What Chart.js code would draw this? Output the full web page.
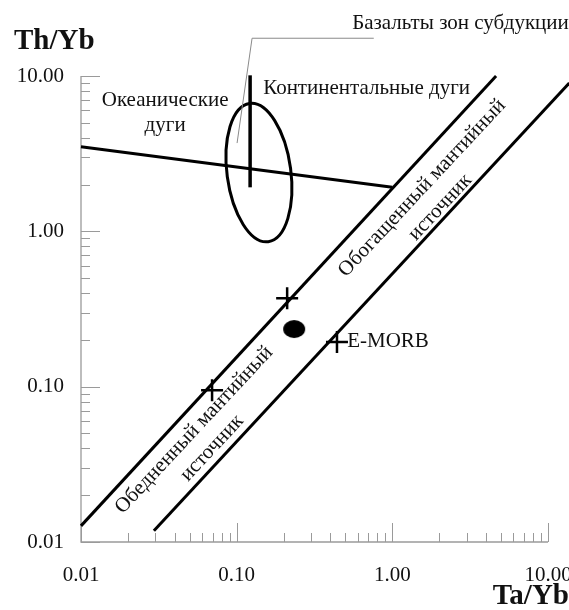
<!DOCTYPE html>
<html>
<head>
<meta charset="utf-8">
<script src="https://cdn.jsdelivr.net/npm/chart.js@4.4.0/dist/chart.umd.min.js"></script>
<style>
  html, body { margin: 0; padding: 0; background: #fff; }
</style>
</head>
<body>
<canvas id="chart" width="569" height="610"></canvas>
<script>
// Th/Yb vs Ta/Yb, both axes log
const decades = [0.01, 0.1, 1, 10];
const minorSteps = [2, 3, 4, 5, 6, 7, 8, 9];
const tickLabels = ["0.01", "0.10", "1.00", "10.00"];

// edges of the mantle array
const upperEdgeX = [0.01, 4.64];
const upperEdgeY = [0.0127, 10];
const lowerEdgeX = [0.0294, 13.7];
const lowerEdgeY = [0.0118, 9.0];

// line across the subduction field
const arcLineX = [0.01, 1.0];
const arcLineY = [3.5, 1.92];

// continental arcs bar
const contArcX = [0.122, 0.122];
const contArcY = [1.92, 10.1];

// leader from "Базальты зон субдукции"
const leaderX = [0.76, 0.1256, 0.1006];
const leaderY = [17.5, 17.5, 3.7];

// crosses
const crossX = [0.0695, 0.211, 0.441];
const crossY = [0.095, 0.371, 0.194];

// filled dot
const dotX = [0.234];
const dotY = [0.235];

// oceanic arcs oval: centre (x, y), half axes in decades, tilt (rad)
const ovalCentre = [0.139, 2.39];
const ovalHalfAxes = [0.205, 0.449];
const ovalTilt = -0.134;

// text notes anchored in data units
const notes = [
  { text: "Базальты зон субдукции", x: 0.552, y: 21.9, align: "left", angle: 0 },
  { text: "Континентальные дуги", x: 0.148, y: 8.34, align: "left", angle: 0 },
  { text: "Океанические", x: 0.0347, y: 6.98, align: "center", angle: 0 },
  { text: "дуги", x: 0.0347, y: 4.82, align: "center", angle: 0 },
  { text: "E-MORB", x: 0.513, y: 0.194, align: "left", angle: 0 },
  { text: "Обедненный мантийный", x: 0.0532, y: 0.0526, align: "center", angle: -47 },
  { text: "источник", x: 0.0695, y: 0.0403, align: "center", angle: -47 },
  { text: "Обогащенный мантийный", x: 1.554, y: 1.90, align: "center", angle: -47 },
  { text: "источник", x: 2.03, y: 1.43, align: "center", angle: -47 },
];

const pts = (xs, ys) => xs.map((x, i) => ({ x, y: ys[i] }));
const SERIF = "'Liberation Serif', 'DejaVu Serif', serif";

// elliptical dot marker
const dotImg = document.createElement("canvas");
dotImg.width = 24;
dotImg.height = 20;
const dctx = dotImg.getContext("2d");
dctx.fillStyle = "#000";
dctx.beginPath();
dctx.ellipse(12, 10, 11, 9, 0, 0, Math.PI * 2);
dctx.fill();

function lineSet(xs, ys, width, color) {
  return {
    data: pts(xs, ys),
    showLine: true,
    borderColor: color || "#000",
    borderWidth: width,
    pointRadius: 0,
    clip: false,
  };
}

const axisDecor = {
  id: "axisDecor",
  beforeDatasetsDraw(chart) {
    const { ctx, chartArea: a, scales: { x, y } } = chart;
    ctx.save();
    ctx.strokeStyle = "#9a9a9a";
    ctx.lineWidth = 1.3;
    ctx.beginPath();
    ctx.moveTo(a.left, a.top);
    ctx.lineTo(a.left, a.bottom);
    ctx.lineTo(a.right, a.bottom);
    ctx.stroke();
    ctx.lineWidth = 1;
    ctx.beginPath();
    x.ticks.forEach((t) => {
      const px = Math.round(x.getPixelForValue(t.value)) + 0.5;
      const len = decades.includes(t.value) ? 19 : 9;
      ctx.moveTo(px, a.bottom);
      ctx.lineTo(px, a.bottom - len);
    });
    y.ticks.forEach((t) => {
      const py = Math.round(y.getPixelForValue(t.value)) + 0.5;
      const len = decades.includes(t.value) ? 19 : 9;
      ctx.moveTo(a.left, py);
      ctx.lineTo(a.left + len, py);
    });
    ctx.stroke();

    // oceanic arcs oval
    const cx = x.getPixelForValue(ovalCentre[0]);
    const cy = y.getPixelForValue(ovalCentre[1]);
    const rx = x.getPixelForValue(ovalCentre[0] * Math.pow(10, ovalHalfAxes[0])) - cx;
    const ry = cy - y.getPixelForValue(ovalCentre[1] * Math.pow(10, ovalHalfAxes[1]));
    ctx.strokeStyle = "#000";
    ctx.lineWidth = 3;
    ctx.beginPath();
    ctx.ellipse(cx, cy, rx, ry, ovalTilt, 0, Math.PI * 2);
    ctx.stroke();
    ctx.restore();
  },
  afterDraw(chart) {
    const { ctx, chartArea: a, scales: { x, y } } = chart;
    ctx.save();
    ctx.fillStyle = "#111";
    ctx.textBaseline = "middle";
    ctx.font = "21px " + SERIF;
    notes.forEach((n) => {
      ctx.save();
      ctx.translate(x.getPixelForValue(n.x), y.getPixelForValue(n.y));
      ctx.rotate((n.angle * Math.PI) / 180);
      ctx.textAlign = n.align;
      ctx.fillText(n.text, 0, 0);
      ctx.restore();
    });
    ctx.font = "bold 29px " + SERIF;
    ctx.textAlign = "left";
    ctx.fillText("Th/Yb", a.left - 67, a.top - 34);
    ctx.textAlign = "right";
    ctx.fillText("Ta/Yb", chart.width, a.bottom + 55);
    ctx.restore();
  },
};

function logTicks(scale) {
  const ticks = [];
  decades.forEach((d, i) => {
    ticks.push({ value: d });
    if (i < decades.length - 1) {
      minorSteps.forEach((m) => ticks.push({ value: +(d * m).toPrecision(3) }));
    }
  });
  scale.ticks = ticks;
}

const tickLabel = (value) => {
  const i = decades.indexOf(value);
  return i >= 0 ? tickLabels[i] : "";
};

new Chart(document.getElementById("chart"), {
  type: "scatter",
  data: {
    datasets: [
      lineSet(upperEdgeX, upperEdgeY, 3),
      lineSet(lowerEdgeX, lowerEdgeY, 3),
      lineSet(arcLineX, arcLineY, 3),
      lineSet(contArcX, contArcY, 3.5),
      lineSet(leaderX, leaderY, 1, "#8a8a8a"),
      {
        data: pts(crossX, crossY),
        pointStyle: "cross",
        pointRadius: 11,
        borderColor: "#000",
        borderWidth: 2.5,
        clip: false,
      },
      {
        data: pts(dotX, dotY),
        pointStyle: dotImg,
        clip: false,
      },
    ],
  },
  options: {
    responsive: false,
    animation: false,
    events: [],
    layout: { padding: { top: 76, right: 21, left: 0, bottom: 0 } },
    plugins: {
      legend: { display: false },
      tooltip: { enabled: false },
    },
    scales: {
      x: {
        type: "logarithmic",
        min: 0.01,
        max: 10,
        grid: { display: false, drawTicks: false },
        border: { display: false },
        afterBuildTicks: logTicks,
        afterFit: (scale) => {
          scale.height = 68;
          scale.paddingLeft = 0;
          scale.paddingRight = 0;
        },
        ticks: {
          autoSkip: false,
          maxRotation: 0,
          padding: 21,
          color: "#111",
          font: { family: SERIF, size: 21 },
          callback: tickLabel,
        },
      },
      y: {
        type: "logarithmic",
        min: 0.01,
        max: 10,
        grid: { display: false, drawTicks: false },
        border: { display: false },
        afterBuildTicks: logTicks,
        afterFit: (scale) => {
          scale.width = 81;
          scale.paddingTop = 0;
          scale.paddingBottom = 0;
        },
        ticks: {
          autoSkip: false,
          padding: 17,
          color: "#111",
          font: { family: SERIF, size: 21 },
          callback: tickLabel,
        },
      },
    },
  },
  plugins: [axisDecor],
});
</script>
</body>
</html>
